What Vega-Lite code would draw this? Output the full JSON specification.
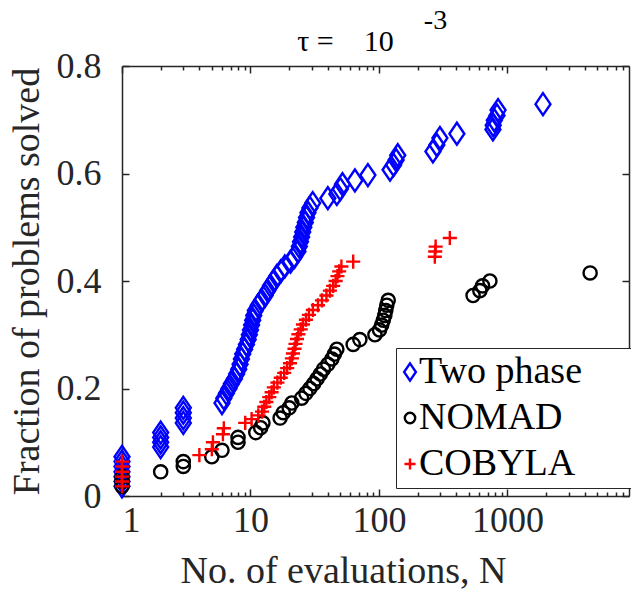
{
  "$schema": "https://vega.github.io/schema/vega-lite/v6.json",
  "width": 507,
  "height": 430,
  "autosize": {"type": "none"},
  "padding": {"left": 122, "top": 66, "right": 2, "bottom": 96},
  "background": "white",
  "data": {
    "values": [
      {"method": "Two phase", "N": 1, "frac": 0.018},
      {"method": "Two phase", "N": 1, "frac": 0.027},
      {"method": "Two phase", "N": 1, "frac": 0.036},
      {"method": "Two phase", "N": 1, "frac": 0.045},
      {"method": "Two phase", "N": 1, "frac": 0.055},
      {"method": "Two phase", "N": 1, "frac": 0.064},
      {"method": "Two phase", "N": 1, "frac": 0.073},
      {"method": "Two phase", "N": 2, "frac": 0.091},
      {"method": "Two phase", "N": 2, "frac": 0.1},
      {"method": "Two phase", "N": 2, "frac": 0.109},
      {"method": "Two phase", "N": 2, "frac": 0.118},
      {"method": "Two phase", "N": 3, "frac": 0.136},
      {"method": "Two phase", "N": 3, "frac": 0.145},
      {"method": "Two phase", "N": 3, "frac": 0.155},
      {"method": "Two phase", "N": 3, "frac": 0.164},
      {"method": "Two phase", "N": 6.0, "frac": 0.173},
      {"method": "Two phase", "N": 6.2, "frac": 0.182},
      {"method": "Two phase", "N": 6.5, "frac": 0.191},
      {"method": "Two phase", "N": 6.8, "frac": 0.2},
      {"method": "Two phase", "N": 7.1, "frac": 0.209},
      {"method": "Two phase", "N": 7.5, "frac": 0.218},
      {"method": "Two phase", "N": 7.8, "frac": 0.227},
      {"method": "Two phase", "N": 8.1, "frac": 0.236},
      {"method": "Two phase", "N": 8.3, "frac": 0.245},
      {"method": "Two phase", "N": 8.5, "frac": 0.255},
      {"method": "Two phase", "N": 8.7, "frac": 0.264},
      {"method": "Two phase", "N": 9.0, "frac": 0.273},
      {"method": "Two phase", "N": 9.3, "frac": 0.282},
      {"method": "Two phase", "N": 9.6, "frac": 0.291},
      {"method": "Two phase", "N": 9.8, "frac": 0.3},
      {"method": "Two phase", "N": 10.0, "frac": 0.309},
      {"method": "Two phase", "N": 10.2, "frac": 0.318},
      {"method": "Two phase", "N": 10.4, "frac": 0.327},
      {"method": "Two phase", "N": 10.6, "frac": 0.336},
      {"method": "Two phase", "N": 10.9, "frac": 0.345},
      {"method": "Two phase", "N": 11.5, "frac": 0.355},
      {"method": "Two phase", "N": 12.2, "frac": 0.364},
      {"method": "Two phase", "N": 13.0, "frac": 0.373},
      {"method": "Two phase", "N": 13.6, "frac": 0.382},
      {"method": "Two phase", "N": 14.3, "frac": 0.391},
      {"method": "Two phase", "N": 15.2, "frac": 0.4},
      {"method": "Two phase", "N": 16.0, "frac": 0.409},
      {"method": "Two phase", "N": 17.2, "frac": 0.418},
      {"method": "Two phase", "N": 18.5, "frac": 0.427},
      {"method": "Two phase", "N": 20.5, "frac": 0.436},
      {"method": "Two phase", "N": 22.0, "frac": 0.445},
      {"method": "Two phase", "N": 23.4, "frac": 0.455},
      {"method": "Two phase", "N": 24.0, "frac": 0.464},
      {"method": "Two phase", "N": 24.5, "frac": 0.473},
      {"method": "Two phase", "N": 25.0, "frac": 0.482},
      {"method": "Two phase", "N": 25.5, "frac": 0.491},
      {"method": "Two phase", "N": 26.0, "frac": 0.5},
      {"method": "Two phase", "N": 26.7, "frac": 0.509},
      {"method": "Two phase", "N": 27.3, "frac": 0.518},
      {"method": "Two phase", "N": 28.0, "frac": 0.527},
      {"method": "Two phase", "N": 29.0, "frac": 0.536},
      {"method": "Two phase", "N": 30.5, "frac": 0.545},
      {"method": "Two phase", "N": 40, "frac": 0.554},
      {"method": "Two phase", "N": 47, "frac": 0.562},
      {"method": "Two phase", "N": 50, "frac": 0.571},
      {"method": "Two phase", "N": 52, "frac": 0.58},
      {"method": "Two phase", "N": 65, "frac": 0.587},
      {"method": "Two phase", "N": 82, "frac": 0.597},
      {"method": "Two phase", "N": 122, "frac": 0.607},
      {"method": "Two phase", "N": 130, "frac": 0.616},
      {"method": "Two phase", "N": 136, "frac": 0.625},
      {"method": "Two phase", "N": 140, "frac": 0.634},
      {"method": "Two phase", "N": 263, "frac": 0.641},
      {"method": "Two phase", "N": 282, "frac": 0.653},
      {"method": "Two phase", "N": 298, "frac": 0.666},
      {"method": "Two phase", "N": 404, "frac": 0.674},
      {"method": "Two phase", "N": 771, "frac": 0.682},
      {"method": "Two phase", "N": 775, "frac": 0.69},
      {"method": "Two phase", "N": 790, "frac": 0.699},
      {"method": "Two phase", "N": 829, "frac": 0.708},
      {"method": "Two phase", "N": 845, "frac": 0.718},
      {"method": "Two phase", "N": 1890, "frac": 0.729},
      {"method": "NOMAD", "N": 1, "frac": 0.018},
      {"method": "NOMAD", "N": 1, "frac": 0.027},
      {"method": "NOMAD", "N": 1, "frac": 0.036},
      {"method": "NOMAD", "N": 2, "frac": 0.045},
      {"method": "NOMAD", "N": 3, "frac": 0.055},
      {"method": "NOMAD", "N": 3, "frac": 0.064},
      {"method": "NOMAD", "N": 5, "frac": 0.073},
      {"method": "NOMAD", "N": 6, "frac": 0.085},
      {"method": "NOMAD", "N": 8, "frac": 0.1},
      {"method": "NOMAD", "N": 8, "frac": 0.109},
      {"method": "NOMAD", "N": 11, "frac": 0.118},
      {"method": "NOMAD", "N": 12, "frac": 0.127},
      {"method": "NOMAD", "N": 12.5, "frac": 0.136},
      {"method": "NOMAD", "N": 17, "frac": 0.145},
      {"method": "NOMAD", "N": 18, "frac": 0.155},
      {"method": "NOMAD", "N": 20, "frac": 0.164},
      {"method": "NOMAD", "N": 21, "frac": 0.173},
      {"method": "NOMAD", "N": 25, "frac": 0.182},
      {"method": "NOMAD", "N": 27, "frac": 0.191},
      {"method": "NOMAD", "N": 29, "frac": 0.2},
      {"method": "NOMAD", "N": 31, "frac": 0.209},
      {"method": "NOMAD", "N": 33, "frac": 0.218},
      {"method": "NOMAD", "N": 35, "frac": 0.227},
      {"method": "NOMAD", "N": 37, "frac": 0.236},
      {"method": "NOMAD", "N": 40, "frac": 0.245},
      {"method": "NOMAD", "N": 43, "frac": 0.255},
      {"method": "NOMAD", "N": 45, "frac": 0.264},
      {"method": "NOMAD", "N": 47, "frac": 0.273},
      {"method": "NOMAD", "N": 63, "frac": 0.282},
      {"method": "NOMAD", "N": 71, "frac": 0.291},
      {"method": "NOMAD", "N": 93, "frac": 0.3},
      {"method": "NOMAD", "N": 101, "frac": 0.309},
      {"method": "NOMAD", "N": 105, "frac": 0.318},
      {"method": "NOMAD", "N": 108, "frac": 0.327},
      {"method": "NOMAD", "N": 111, "frac": 0.336},
      {"method": "NOMAD", "N": 113, "frac": 0.345},
      {"method": "NOMAD", "N": 115, "frac": 0.355},
      {"method": "NOMAD", "N": 118, "frac": 0.364},
      {"method": "NOMAD", "N": 540, "frac": 0.373},
      {"method": "NOMAD", "N": 610, "frac": 0.382},
      {"method": "NOMAD", "N": 640, "frac": 0.391},
      {"method": "NOMAD", "N": 730, "frac": 0.4},
      {"method": "NOMAD", "N": 4400, "frac": 0.415},
      {"method": "COBYLA", "N": 1, "frac": 0.018},
      {"method": "COBYLA", "N": 1, "frac": 0.027},
      {"method": "COBYLA", "N": 1, "frac": 0.036},
      {"method": "COBYLA", "N": 1, "frac": 0.045},
      {"method": "COBYLA", "N": 1, "frac": 0.055},
      {"method": "COBYLA", "N": 1, "frac": 0.064},
      {"method": "COBYLA", "N": 4.0, "frac": 0.076},
      {"method": "COBYLA", "N": 5.0, "frac": 0.087},
      {"method": "COBYLA", "N": 5.1, "frac": 0.1},
      {"method": "COBYLA", "N": 6.1, "frac": 0.115},
      {"method": "COBYLA", "N": 6.2, "frac": 0.126},
      {"method": "COBYLA", "N": 9.1, "frac": 0.136},
      {"method": "COBYLA", "N": 10.2, "frac": 0.143},
      {"method": "COBYLA", "N": 11.5, "frac": 0.15},
      {"method": "COBYLA", "N": 12.3, "frac": 0.157},
      {"method": "COBYLA", "N": 12.8, "frac": 0.166},
      {"method": "COBYLA", "N": 13.3, "frac": 0.175},
      {"method": "COBYLA", "N": 14.0, "frac": 0.184},
      {"method": "COBYLA", "N": 14.6, "frac": 0.193},
      {"method": "COBYLA", "N": 15.2, "frac": 0.202},
      {"method": "COBYLA", "N": 16.2, "frac": 0.211},
      {"method": "COBYLA", "N": 17.2, "frac": 0.22},
      {"method": "COBYLA", "N": 18.3, "frac": 0.229},
      {"method": "COBYLA", "N": 19.3, "frac": 0.238},
      {"method": "COBYLA", "N": 20.3, "frac": 0.247},
      {"method": "COBYLA", "N": 21.0, "frac": 0.256},
      {"method": "COBYLA", "N": 21.4, "frac": 0.265},
      {"method": "COBYLA", "N": 22.0, "frac": 0.274},
      {"method": "COBYLA", "N": 22.4, "frac": 0.283},
      {"method": "COBYLA", "N": 23.0, "frac": 0.292},
      {"method": "COBYLA", "N": 23.6, "frac": 0.301},
      {"method": "COBYLA", "N": 24.6, "frac": 0.31},
      {"method": "COBYLA", "N": 25.6, "frac": 0.319},
      {"method": "COBYLA", "N": 27.0, "frac": 0.328},
      {"method": "COBYLA", "N": 28.5, "frac": 0.337},
      {"method": "COBYLA", "N": 30.6, "frac": 0.346},
      {"method": "COBYLA", "N": 33.5, "frac": 0.355},
      {"method": "COBYLA", "N": 36.0, "frac": 0.364},
      {"method": "COBYLA", "N": 39.0, "frac": 0.373},
      {"method": "COBYLA", "N": 41.5, "frac": 0.382},
      {"method": "COBYLA", "N": 44.0, "frac": 0.391},
      {"method": "COBYLA", "N": 46.0, "frac": 0.4},
      {"method": "COBYLA", "N": 47.5, "frac": 0.409},
      {"method": "COBYLA", "N": 49.0, "frac": 0.418},
      {"method": "COBYLA", "N": 51.0, "frac": 0.427},
      {"method": "COBYLA", "N": 63.0, "frac": 0.436},
      {"method": "COBYLA", "N": 272, "frac": 0.445},
      {"method": "COBYLA", "N": 274, "frac": 0.455},
      {"method": "COBYLA", "N": 276, "frac": 0.464},
      {"method": "COBYLA", "N": 356, "frac": 0.48}
    ]
  },
  "layer": [
    {
      "mark": {"type": "point", "filled": false, "size": 484, "opacity": 1},
      "encoding": {
        "x": {
          "field": "N", "type": "quantitative",
          "scale": {"type": "log", "domain": [1, 8830], "nice": false},
          "axis": {
            "orient": "bottom",
            "title": "No. of evaluations, N",
            "values": [1,2,3,4,5,6,7,8,9,10,20,30,40,50,60,70,80,90,100,200,300,400,500,600,700,800,900,1000,2000,3000,4000,5000,6000,7000,8000],
            "labelExpr": "indexof([1,10,100,1000], datum.value) >= 0 ? format(datum.value, 'd') : ''",
            "tickSize": {"condition": {"test": "indexof([1,10,100,1000], datum.value) >= 0", "value": -7}, "value": -4},
            "labelPadding": 14,
            "titlePadding": 14,
            "titleX": 221,
            "titleFontSize": 38,
            "grid": false
          }
        },
        "y": {
          "field": "frac", "type": "quantitative",
          "scale": {"domain": [0, 0.8], "nice": false},
          "axis": {
            "orient": "left",
            "title": "Fraction of problems solved",
            "values": [0, 0.2, 0.4, 0.6, 0.8],
            "format": ".1~f",
            "tickSize": -7,
            "labelPadding": 28,
            "titlePadding": 10,
            "titleFontSize": 38,
            "grid": false
          }
        },
        "strokeWidth": {
          "field": "method", "type": "nominal",
          "scale": {"domain": ["Two phase", "NOMAD", "COBYLA"], "range": [2.4, 2.4, 3]},
          "legend": null
        },
        "color": {
          "field": "method", "type": "nominal",
          "scale": {"domain": ["Two phase", "NOMAD", "COBYLA"], "range": ["#0000ff", "#000000", "#ff0000"]},
          "legend": {
            "title": null,
            "orient": "none",
            "legendX": 274,
            "legendY": 282,
            "strokeColor": "#262626",
            "fillColor": "#ffffff",
            "padding": 5,
            "rowPadding": 8,
            "labelFont": "Liberation Serif",
            "labelFontSize": 38,
            "labelColor": "#000000",
            "labelOffset": -10,
            "symbolOffset": -10,
            "labelLimit": 400,
            "labelExpr": "datum.label + '\u00a0\u00a0\u00a0\u00a0\u00a0\u200b'",
            "symbolSize": 300,
            "symbolStrokeWidth": 2.4
          }
        },
        "shape": {
          "field": "method", "type": "nominal",
          "scale": {
            "domain": ["Two phase", "NOMAD", "COBYLA"],
            "range": [
              "M0,-1L0.68,0L0,1L-0.68,0Z",
              "M0.6,0A0.6,0.6 0 1,1 -0.6,0A0.6,0.6 0 1,1 0.6,0Z",
              "M-0.64,0H0.64M0,-0.64V0.64"
            ]
          }
        }
      }
    },
    {
      "mark": {"type": "point", "opacity": 0},
      "encoding": {
        "x": {
          "field": "N", "type": "quantitative",
          "axis": {
            "orient": "top",
            "title": "-3",
            "titleX": 313,
            "titleY": -38,
            "titleAngle": 0,
            "titleAlign": "center",
            "titleBaseline": "alphabetic",
            "titleFont": "Liberation Serif",
            "titleFontSize": 28,
            "titleFontWeight": "normal",
            "titleColor": "#000000",
            "labels": false,
            "values": [1,2,3,4,5,6,7,8,9,10,20,30,40,50,60,70,80,90,100,200,300,400,500,600,700,800,900,1000,2000,3000,4000,5000,6000,7000,8000],
            "tickSize": {"condition": {"test": "indexof([1,10,100,1000], datum.value) >= 0", "value": -7}, "value": -4},
            "grid": false
          }
        },
        "y": {
          "field": "frac", "type": "quantitative",
          "axis": {
            "orient": "right",
            "title": "τ\u00a0=\u00a0\u00a0\u00a0\u00a010",
            "titleX": -284,
            "titleY": -16,
            "titleAngle": 0,
            "titleAlign": "center",
            "titleBaseline": "alphabetic",
            "titleFont": "Liberation Serif",
            "titleFontSize": 30,
            "titleFontWeight": "normal",
            "titleColor": "#000000",
            "labels": false,
            "values": [0, 0.2, 0.4, 0.6, 0.8],
            "tickSize": -7,
            "grid": false
          }
        }
      }
    }
  ],
  "resolve": {"axis": {"x": "independent", "y": "independent"}},
  "config": {
    "view": {"stroke": null},
    "axis": {
      "domainColor": "#262626",
      "domainWidth": 1.5,
      "tickColor": "#262626",
      "tickWidth": 1.5,
      "labelFont": "Liberation Serif",
      "labelFontSize": 36,
      "labelColor": "#262626",
      "titleFont": "Liberation Serif",
      "titleFontSize": 36,
      "titleFontWeight": "normal",
      "titleColor": "#262626"
    }
  }
}
